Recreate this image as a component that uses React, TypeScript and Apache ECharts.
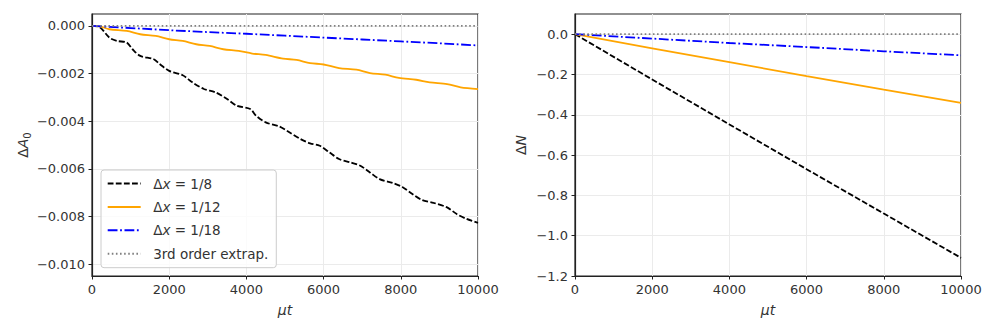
import React, { useEffect, useRef } from "react";
import * as echarts from "echarts";

// ---- data: left panel (ΔA0 vs μt) ----
const tDx8 = [0, 200, 450, 650, 900, 1050, 1250, 1600, 1750, 2000, 2350, 2600, 2900, 3200, 3500, 3750, 4100, 4250, 4500, 4850, 5050, 5400, 5650, 5900, 6150, 6400, 6700, 6950, 7200, 7450, 7800, 8050, 8300, 8550, 8850, 9200, 9450, 9700, 10000];
const dA0Dx8 = [0, -0.00005, -0.00049, -0.00063, -0.0007, -0.00098, -0.00126, -0.0014, -0.0016, -0.00189, -0.00207, -0.00237, -0.00265, -0.00279, -0.00307, -0.00335, -0.00349, -0.00377, -0.00405, -0.00422, -0.0044, -0.00475, -0.00493, -0.00503, -0.00531, -0.00559, -0.00573, -0.00587, -0.00615, -0.00643, -0.0066, -0.00677, -0.00706, -0.00731, -0.00743, -0.00762, -0.0079, -0.0081, -0.00827];

const tDx12 = [0, 200, 450, 900, 1250, 1650, 2000, 2350, 2700, 3050, 3400, 3800, 4150, 4500, 4950, 5300, 5650, 6000, 6400, 6850, 7200, 7600, 7950, 8400, 8750, 9200, 9550, 10000];
const dA0Dx12 = [0, -0.00002, -0.00014, -0.00021, -0.00035, -0.00042, -0.00056, -0.00063, -0.00077, -0.00084, -0.00098, -0.00105, -0.00116, -0.00122, -0.00137, -0.00143, -0.00156, -0.00162, -0.00177, -0.00184, -0.00198, -0.00205, -0.00218, -0.00226, -0.00237, -0.00244, -0.00258, -0.00265];

const tDx18 = [0, 1000, 2000, 3000, 4000, 5000, 6000, 7000, 8000, 9000, 10000];
const dA0Dx18 = [0, -0.00009, -0.00018, -0.00026, -0.00033, -0.00041, -0.00049, -0.00057, -0.00065, -0.00073, -0.00082];

const tExtrap = [0, 10000];
const dA0Extrap = [0, 0];

// ---- data: right panel (ΔN vs μt) ----
const tN = [0, 2000, 4000, 6000, 8000, 10000];
const dNDx8 = [0, -0.225, -0.448, -0.67, -0.89, -1.11];
const dNDx12 = [0, -0.07, -0.139, -0.208, -0.275, -0.341];
const dNDx18 = [0, -0.022, -0.044, -0.064, -0.085, -0.105];
const dNExtrap = [0, 0, 0, 0, 0, 0];

// ---- ticks ----
const xTicks = [0, 2000, 4000, 6000, 8000, 10000];
const leftYTicks = [-0.01, -0.008, -0.006, -0.004, -0.002, 0];
const rightYTicks = [-1.2, -1.0, -0.8, -0.6, -0.4, -0.2, 0];

const seriesNames = ["Δx = 1/8", "Δx = 1/12", "Δx = 1/18", "3rd order extrap."];
const legendRich: Record<string, string> = {
  "Δx = 1/8": "{g| }{n|Δ}{i|x}{n| = 1/8}",
  "Δx = 1/12": "{g| }{n|Δ}{i|x}{n| = 1/12}",
  "Δx = 1/18": "{g| }{n|Δ}{i|x}{n| = 1/18}",
  "3rd order extrap.": "{g| }{n|3rd order extrap.}",
};

const zip = (t: number[], v: number[]) => t.map((x, i) => [x, v[i]]);

const FONT = "'DejaVu Sans', sans-serif";
const TXT = "#333333";
const AX = "#222222";
const GRIDC = "#ebebeb";

const styles = [
  { color: "#000000", type: [5.8, 2.3] as any },
  { color: "#ffa500", type: "solid" as any },
  { color: "#0000ff", type: [9.8, 2.6, 1.8, 2.6] as any },
  { color: "#808080", type: [1.6, 2.5] as any },
];

const fmt = (d: number) => (v: number) => {
  const s = Math.abs(v).toFixed(d);
  return (v < -1e-12 ? "−" : "") + s;
};

export default function App() {
  const ref = useRef<HTMLDivElement>(null);
  useEffect(() => {
    if (!ref.current) return;
    const chart = echarts.init(ref.current, null, { renderer: "svg" });

    const richName = {
      n: { fontFamily: FONT, fontSize: 14, color: TXT },
      i: { fontFamily: FONT, fontSize: 14, color: TXT, fontStyle: "italic" },
      s: { fontFamily: FONT, fontSize: 10, color: TXT, padding: [9, 0, 0, 0] },
    };

    const xAxisFor = (gi: number) => ({
      type: "value",
      gridIndex: gi,
      min: 0,
      max: 10000,
      interval: 2000,
      axisLine: { show: true, onZero: false, lineStyle: { color: AX, width: 1.2 } },
      axisTick: { show: true, length: 3.5, lineStyle: { color: AX, width: 1 }, customValues: xTicks },
      axisLabel: { color: TXT, fontSize: 13, fontFamily: FONT, margin: 7, customValues: xTicks, formatter: (v: number) => String(Math.round(v)) },
      splitLine: { show: true, lineStyle: { color: GRIDC, width: 1 } },
      name: "{i|μt}",
      nameLocation: "middle",
      nameGap: 27,
      nameTextStyle: { rich: richName },
    });

    const yAxisFor = (gi: number, min: number, max: number, ticks: number[], dec: number, name: string, gap: number) => ({
      type: "value",
      gridIndex: gi,
      min,
      max,
      axisLine: { show: true, onZero: false, lineStyle: { color: AX, width: 1.2 } },
      axisTick: { show: true, length: 3.5, lineStyle: { color: AX, width: 1 }, customValues: ticks },
      axisLabel: { color: TXT, fontSize: 13, fontFamily: FONT, margin: 7, customValues: ticks, formatter: fmt(dec) },
      splitLine: { show: true, lineStyle: { color: GRIDC, width: 1 } },
      name,
      nameLocation: "middle",
      nameRotate: 90,
      nameGap: gap,
      nameTextStyle: { rich: richName },
    });

    const mk = (name: string, idx: number, data: number[][], si: number, smooth: number | boolean) => ({
      type: "line",
      name,
      xAxisIndex: idx,
      yAxisIndex: idx,
      data,
      symbol: "none",
      showSymbol: false,
      smooth,
      lineStyle: { color: styles[si].color, width: 1.8, type: styles[si].type },
      itemStyle: { color: styles[si].color },
      emphasis: { disabled: true },
    });

    chart.setOption({
      animation: false,
      backgroundColor: "#ffffff",
      grid: [
        { left: 92, top: 14, width: 386, height: 262, show: true, borderColor: AX, borderWidth: 1.2, backgroundColor: "transparent" },
        { left: 575, top: 14, width: 386, height: 262, show: true, borderColor: AX, borderWidth: 1.2, backgroundColor: "transparent" },
      ],
      xAxis: [xAxisFor(0), xAxisFor(1)],
      yAxis: [
        yAxisFor(0, -0.0105, 0.0005, leftYTicks, 3, "{n|Δ}{i|A}{s|0}", 60),
        yAxisFor(1, -1.2, 0.1, rightYTicks, 1, "{n|Δ}{i|N}", 47),
      ],
      legend: {
        show: true,
        orient: "vertical",
        left: 101,
        top: 170,
        data: seriesNames,
        itemWidth: 33,
        itemHeight: 14,
        itemGap: 9.4,
        padding: [6.5, 8, 7, 5.7],
        backgroundColor: "rgba(255,255,255,0.8)",
        borderColor: "#cccccc",
        borderWidth: 1,
        borderRadius: 3,
        selectedMode: false,
        itemStyle: { color: "rgba(0,0,0,0)", borderColor: "rgba(0,0,0,0)", borderWidth: 0, opacity: 0 },
        formatter: (n: string) => legendRich[n] || n,
        textStyle: {
          lineHeight: 14,
          rich: {
            g: { width: 7.5, fontSize: 13.5 },
            n: { fontFamily: FONT, fontSize: 13.5, color: TXT },
            i: { fontFamily: FONT, fontSize: 13.5, color: TXT, fontStyle: "italic" },
          },
        },
      },
      series: [
        mk(seriesNames[0], 0, zip(tDx8, dA0Dx8), 0, 0.3),
        mk(seriesNames[1], 0, zip(tDx12, dA0Dx12), 1, 0.3),
        mk(seriesNames[2], 0, zip(tDx18, dA0Dx18), 2, false),
        mk(seriesNames[3], 0, zip(tExtrap, dA0Extrap), 3, false),
        mk(seriesNames[0], 1, zip(tN, dNDx8), 0, false),
        mk(seriesNames[1], 1, zip(tN, dNDx12), 1, false),
        mk(seriesNames[2], 1, zip(tN, dNDx18), 2, false),
        mk(seriesNames[3], 1, zip(tN, dNExtrap), 3, false),
      ],
    });
    return () => chart.dispose();
  }, []);
  return <div ref={ref} style={{ width: 997, height: 332, position: "absolute", left: 0, top: 0 }} />;
}
